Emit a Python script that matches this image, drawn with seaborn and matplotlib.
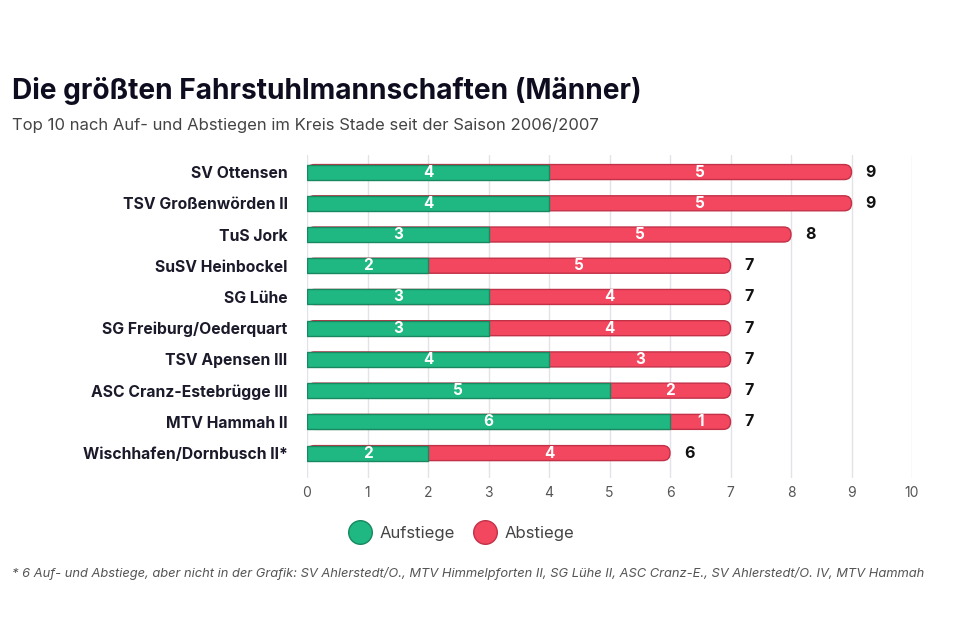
import pandas as pd
import matplotlib.pyplot as plt
import seaborn as sns
from matplotlib.patches import FancyBboxPatch
from matplotlib.lines import Line2D

teams = ['SV Ottensen', 'TSV Großenwörden II', 'TuS Jork', 'SuSV Heinbockel', 'SG Lühe',
         'SG Freiburg/Oederquart', 'TSV Apensen III', 'ASC Cranz-Estebrügge III',
         'MTV Hammah II', 'Wischhafen/Dornbusch II*']
aufstiege = [4, 4, 3, 2, 3, 3, 4, 5, 6, 2]
abstiege = [5, 5, 5, 5, 4, 4, 3, 2, 1, 4]

GREEN = '#1fb882'
GREEN_EDGE = '#17885f'
RED = '#f2475f'
RED_EDGE = '#c23148'

df = pd.DataFrame({'team': teams, 'auf': aufstiege, 'ab': abstiege})
df['total'] = df['auf'] + df['ab']

sns.set_theme(style='white')
plt.rcParams['font.family'] = ['Inter', 'DejaVu Sans']

fig = plt.figure(figsize=(9.6, 6.4), dpi=100)
ax = fig.add_axes([0.3198, 0.253, 0.6302, 0.505])

bar_h = 0.48
sns.barplot(data=df, x='total', y='team', color=RED, width=bar_h, ax=ax,
            saturation=1, zorder=2)
red_bars = list(ax.patches)
sns.barplot(data=df, x='auf', y='team', color=GREEN, width=bar_h, ax=ax,
            saturation=1, edgecolor=GREEN_EDGE, linewidth=1, zorder=3)

# rounded right ends on the red (total) bars
for p in red_bars:
    x, y, w, h = p.get_x(), p.get_y(), p.get_width(), p.get_height()
    p.set_visible(False)
    rb = FancyBboxPatch((x, y), w, h, boxstyle='round,pad=0,rounding_size=0.12',
                        mutation_aspect=1.95,
                        facecolor=RED, edgecolor=RED_EDGE, linewidth=1, zorder=2)
    ax.add_patch(rb)

for i, row in df.iterrows():
    ax.text(row['auf'] / 2, i, str(row['auf']), ha='center', va='center',
            color='white', fontsize=11, fontweight='bold', zorder=4)
    ax.text(row['auf'] + row['ab'] / 2, i, str(row['ab']), ha='center', va='center',
            color='white', fontsize=11, fontweight='bold', zorder=4)
    ax.annotate(str(row['total']), (row['total'], i), xytext=(10, 0),
                textcoords='offset points', ha='left', va='center',
                color='#111111', fontsize=11.5, fontweight='bold')

ax.set_xlim(0, 10)
ax.set_ylim(len(teams) - 0.2, -0.55)
ax.set_xticks(range(0, 11))
ax.grid(axis='x', color='#e2e2e8', linewidth=1, zorder=0)
ax.grid(axis='y', visible=False)
ax.set_axisbelow(True)
for s in ax.spines.values():
    s.set_visible(False)
ax.set_xlabel('')
ax.set_ylabel('')
ax.tick_params(axis='x', length=0, pad=6, labelsize=10, labelcolor='#555555')
ax.tick_params(axis='y', length=0, pad=14, labelsize=11.3, labelcolor='#1a1a2a')
for lbl in ax.get_yticklabels():
    lbl.set_fontweight('bold')

fig.text(0.0125, 0.845, 'Die größten Fahrstuhlmannschaften (Männer)', fontsize=20.2,
         fontweight='bold', color='#0d0d1f', ha='left', va='baseline')
fig.text(0.0125, 0.797, 'Top 10 nach Auf- und Abstiegen im Kreis Stade seit der Saison 2006/2007',
         fontsize=12, color='#444444', ha='left', va='baseline')
fig.text(0.0125, 0.098, '* 6 Auf- und Abstiege, aber nicht in der Grafik: SV Ahlerstedt/O., '
         'MTV Himmelpforten II, SG Lühe II, ASC Cranz-E., SV Ahlerstedt/O. IV, MTV Hammah',
         fontsize=9.3, style='italic', color='#555555', ha='left', va='baseline')

handles = [Line2D([0], [0], marker='o', linestyle='', markersize=17,
                  markerfacecolor=GREEN, markeredgecolor=GREEN_EDGE, label='Aufstiege'),
           Line2D([0], [0], marker='o', linestyle='', markersize=17,
                  markerfacecolor=RED, markeredgecolor=RED_EDGE, label='Abstiege')]
fig.legend(handles=handles, loc='center', bbox_to_anchor=(0.478, 0.166), ncol=2,
           frameon=False, fontsize=12, handletextpad=0.2, columnspacing=0.8,
           labelcolor='#444444')

fig.savefig('out.png', dpi=100)
